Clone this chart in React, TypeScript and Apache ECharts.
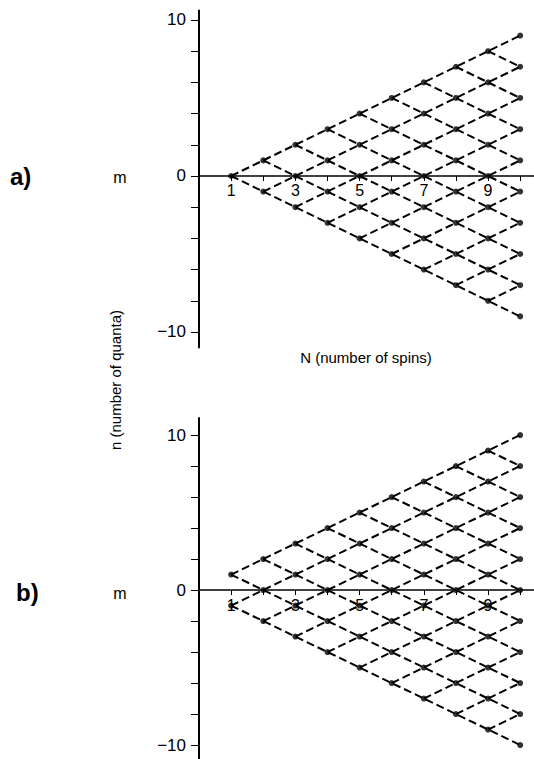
import React, { useEffect, useRef } from "react";
import * as echarts from "echarts";

// N (number of spins)
const N_VALUES = [1, 2, 3, 4, 5, 6, 7, 8, 9, 10];

// Panel a: allowed m values at each N
const A_M = [
  [0],
  [-1, 1],
  [-2, 0, 2],
  [-3, -1, 1, 3],
  [-4, -2, 0, 2, 4],
  [-5, -3, -1, 1, 3, 5],
  [-6, -4, -2, 0, 2, 4, 6],
  [-7, -5, -3, -1, 1, 3, 5, 7],
  [-8, -6, -4, -2, 0, 2, 4, 6, 8],
  [-9, -7, -5, -3, -1, 1, 3, 5, 7, 9],
];

// Panel b: allowed m values at each N
const B_M = [
  [-1, 1],
  [-2, 0, 2],
  [-3, -1, 1, 3],
  [-4, -2, 0, 2, 4],
  [-5, -3, -1, 1, 3, 5],
  [-6, -4, -2, 0, 2, 4, 6],
  [-7, -5, -3, -1, 1, 3, 5, 7],
  [-8, -6, -4, -2, 0, 2, 4, 6, 8],
  [-9, -7, -5, -3, -1, 1, 3, 5, 7, 9],
  [-10, -8, -6, -4, -2, 0, 2, 4, 6, 8, 10],
];

// Dashed lattice lines: [startN, startM, endN, endM]
const A_LINES = [
  [1, 0, 10, 9], [2, -1, 10, 7], [3, -2, 10, 5], [4, -3, 10, 3], [5, -4, 10, 1],
  [6, -5, 10, -1], [7, -6, 10, -3], [8, -7, 10, -5], [9, -8, 10, -7],
  [1, 0, 10, -9], [2, 1, 10, -7], [3, 2, 10, -5], [4, 3, 10, -3], [5, 4, 10, -1],
  [6, 5, 10, 1], [7, 6, 10, 3], [8, 7, 10, 5], [9, 8, 10, 7],
];
const B_LINES = [
  [1, 1, 10, 10], [1, -1, 10, 8], [2, -2, 10, 6], [3, -3, 10, 4], [4, -4, 10, 2],
  [5, -5, 10, 0], [6, -6, 10, -2], [7, -7, 10, -4], [8, -8, 10, -6], [9, -9, 10, -8],
  [1, -1, 10, -10], [1, 1, 10, -8], [2, 2, 10, -6], [3, 3, 10, -4], [4, 4, 10, -2],
  [5, 5, 10, 0], [6, 6, 10, 2], [7, 7, 10, 4], [8, 8, 10, 6], [9, 9, 10, 8],
];

const X_TICKS = [1, 2, 3, 4, 5, 6, 7, 8, 9, 10];
const X_LABELS = [1, 3, 5, 7, 9];
const Y_TICKS = [-10, -8, -6, -4, -2, 0, 2, 4, 6, 8, 10];
const Y_LABELS = [-10, 0, 10];

const FONT = "'Liberation Sans', Arial, Helvetica, sans-serif";
const BOLD_FONT = "'Liberation Sans Narrow', 'Liberation Sans', Arial, sans-serif";

export default function App() {
  const ref = useRef<HTMLDivElement>(null);

  useEffect(() => {
    if (!ref.current) return;
    const chart = echarts.init(ref.current, undefined, { renderer: "svg" });

    // grid geometry (pixels)
    const gridA = { left: 199, top: 10.6, width: 335, height: 337 };
    const gridB = { left: 199, top: 418, width: 335, height: 341 };
    const yRangeA = [-11, 10.6];
    const yRangeB = [-10.9, 11.1];
    // distance from grid bottom to the m = 0 line, so the x axis sits on zero
    const zeroOffset = (g: any, r: number[]) => -(g.height * (0 - r[0])) / (r[1] - r[0]);

    const xAxis = (gridIndex: number, offset: number) => ({
      type: "value",
      gridIndex,
      min: 0,
      max: 10.43,
      position: "bottom",
      offset,
      axisLine: { show: true, onZero: false, lineStyle: { color: "#000", width: 1.6 } },
      axisTick: { show: true, length: 5, customValues: X_TICKS, lineStyle: { color: "#000", width: 1 } },
      axisLabel: {
        show: true,
        customValues: X_LABELS,
        color: "#000",
        fontSize: 16,
        fontFamily: FONT,
        margin: 7,
      },
      splitLine: { show: false },
    });

    const yAxis = (gridIndex: number, r: number[]) => ({
      type: "value",
      gridIndex,
      min: r[0],
      max: r[1],
      axisLine: { show: true, onZero: false, lineStyle: { color: "#000", width: 2 } },
      axisTick: { show: true, length: 8, customValues: Y_TICKS, lineStyle: { color: "#000", width: 1 } },
      axisLabel: {
        show: true,
        customValues: Y_LABELS,
        color: "#000",
        fontSize: 17,
        fontFamily: FONT,
        margin: 13,
        formatter: (v: number) => (v < 0 ? "\u2212" + Math.abs(v) : String(v)),
      },
      splitLine: { show: false },
    });

    const lineSeries = (lines: number[][], idx: number) =>
      lines.map((l) => ({
        type: "line",
        xAxisIndex: idx,
        yAxisIndex: idx,
        data: [
          [l[0], l[1]],
          [l[2], l[3]],
        ],
        symbol: "none",
        lineStyle: { color: "#000", width: 2, type: [8, 4] },
        silent: true,
        z: 2,
      }));

    const pointsA = N_VALUES.flatMap((n, i) => A_M[i].map((m) => [n, m]));
    const pointsB = N_VALUES.flatMap((n, i) => B_M[i].map((m) => [n, m]));

    const option = {
      animation: false,
      backgroundColor: "#fff",
      grid: [gridA, gridB],
      xAxis: [xAxis(0, zeroOffset(gridA, yRangeA)), xAxis(1, zeroOffset(gridB, yRangeB))],
      yAxis: [yAxis(0, yRangeA), yAxis(1, yRangeB)],
      series: [
        ...lineSeries(A_LINES, 0),
        ...lineSeries(B_LINES, 1),
        {
          type: "scatter",
          xAxisIndex: 0,
          yAxisIndex: 0,
          data: pointsA,
          symbolSize: 6,
          itemStyle: { color: "#000" },
          z: 3,
        },
        {
          type: "scatter",
          xAxisIndex: 1,
          yAxisIndex: 1,
          data: pointsB,
          symbolSize: 6,
          itemStyle: { color: "#000" },
          z: 3,
        },
      ],
      graphic: [
        {
          type: "text",
          left: 10,
          top: 164,
          style: { text: "a)", fontSize: 24, fontWeight: 900, fontFamily: BOLD_FONT, fill: "#000" },
        },
        {
          type: "text",
          left: 16,
          top: 580,
          style: { text: "b)", fontSize: 24, fontWeight: 900, fontFamily: BOLD_FONT, fill: "#000" },
        },
        {
          type: "text",
          x: 120,
          y: 177,
          style: { text: "m", fontSize: 16, fontFamily: FONT, fill: "#000", align: "center", verticalAlign: "middle" },
        },
        {
          type: "text",
          x: 120,
          y: 593,
          style: { text: "m", fontSize: 16, fontFamily: FONT, fill: "#000", align: "center", verticalAlign: "middle" },
        },
        {
          type: "text",
          x: 115,
          y: 380,
          rotation: Math.PI / 2,
          style: {
            text: "n (number of quanta)",
            fontSize: 15,
            fontFamily: FONT,
            fill: "#000",
            align: "center",
            verticalAlign: "middle",
          },
        },
        {
          type: "text",
          x: 366,
          y: 357,
          style: {
            text: "N (number of spins)",
            fontSize: 15,
            fontFamily: FONT,
            fill: "#000",
            align: "center",
            verticalAlign: "middle",
          },
        },
      ],
    };

    chart.setOption(option as any);
    return () => chart.dispose();
  }, []);

  return (
    <div
      ref={ref}
      style={{ position: "absolute", left: 0, top: 0, width: 534, height: 759, background: "#fff" }}
    />
  );
}
